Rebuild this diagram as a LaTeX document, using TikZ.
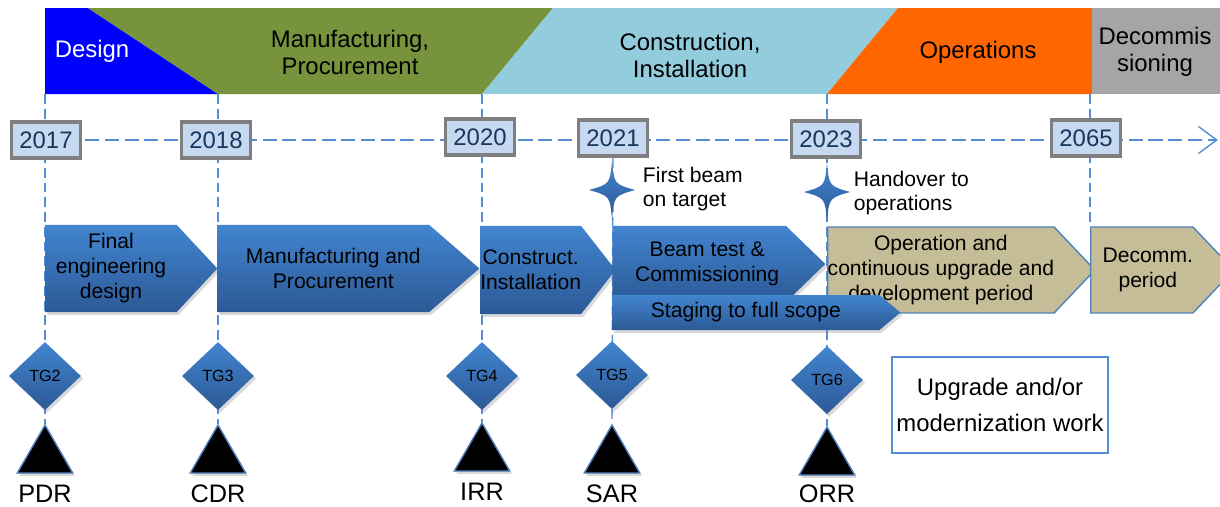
\documentclass[tikz,border=0pt]{standalone}
\usepackage{fontspec}
\setmainfont{Liberation Sans}
\usetikzlibrary{positioning, arrows.meta, shapes.geometric, shapes.symbols, shadows}
\definecolor{designc}{RGB}{0,0,255}
\definecolor{manufc}{RGB}{119,147,60}
\definecolor{constrc}{RGB}{147,205,221}
\definecolor{operc}{RGB}{255,102,0}
\definecolor{decomc}{RGB}{165,165,165}
\definecolor{yearfill}{RGB}{198,217,241}
\definecolor{yearline}{RGB}{127,127,127}
\definecolor{yeartext}{RGB}{23,55,94}
\definecolor{dashc}{RGB}{85,142,213}
\definecolor{chevtop}{RGB}{66,133,208}
\definecolor{chevbot}{RGB}{44,89,150}
\definecolor{tanc}{RGB}{196,189,151}
\definecolor{edgec}{RGB}{79,129,189}

\pgfdeclarelayer{background}
\pgfsetlayers{background,main}

\tikzset{
  milestar/.pic={
    \shade[top color=chevtop, bottom color=chevbot]
      (0,-30) .. controls (2,-6) .. (23,0) .. controls (2,6) .. (0,30)
      .. controls (-2,6) .. (-23,0) .. controls (-2,-6) .. (0,-30) -- cycle;
  }
}

\begin{document}
\begin{tikzpicture}[x=0.025cm, y=-0.025cm,
  bandtext/.style={align=center, font=\fontsize{17}{19.2}\selectfont},
  year/.style={draw=yearline, line width=2.8pt, fill=yearfill, text=yeartext, minimum width=1.725cm, minimum height=0.9cm, inner sep=0, font=\fontsize{17}{20}\selectfont},
  chev/.style={signal, signal to=east, inner sep=0, align=center, top color=chevtop, bottom color=chevbot, drop shadow={opacity=0.3, shadow xshift=1.5pt, shadow yshift=-2pt}, font=\fontsize{15}{17.8}\selectfont},
  tanchev/.style={signal, signal to=east, inner sep=0, align=center, fill=tanc, draw=edgec, line width=1pt, font=\fontsize{15}{17.8}\selectfont},
  gate/.style={diamond, minimum width=1.8cm, minimum height=1.7cm, inner sep=0, top color=chevtop, bottom color=chevbot, drop shadow={opacity=0.3, shadow xshift=1.5pt, shadow yshift=-2pt}, font=\fontsize{11.5}{13}\selectfont},
  review/.style={regular polygon, regular polygon sides=3, minimum size=1.6cm, inner sep=0, fill=black, draw=edgec, line width=1pt, drop shadow={opacity=0.3, shadow xshift=1.5pt, shadow yshift=-2pt}},
  revtext/.style={font=\fontsize{18}{20}\selectfont},
  startext/.style={anchor=west, align=left, font=\fontsize{15}{17}\selectfont},
  vline/.style={dashc, line width=1pt, dash pattern=on 7pt off 3.5pt},
  hline/.style={dashc, line width=1pt, dash pattern=on 10pt off 4pt, -{Straight Barb[length=13pt, width=19pt]}}
]
\useasboundingbox (0,0) rectangle (1220,506);

% phases
\fill[designc] (45,8) -- (88,8) -- (218,94) -- (45,94) -- cycle;
\fill[manufc] (88,8) -- (553,8) -- (482,94) -- (218,94) -- cycle;
\fill[constrc] (553,8) -- (898,8) -- (827,94) -- (482,94) -- cycle;
\fill[operc] (898,8) -- (1092,8) -- (1092,94) -- (827,94) -- cycle;
\fill[decomc] (1092,8) -- (1220,8) -- (1220,94) -- (1092,94) -- cycle;

\node[bandtext, text=white] (pdesign) at (92,51) {Design};
\node[bandtext] (pmanuf) at (350,52) {Manufacturing,\\Procurement};
\node[bandtext] (pconstr) at (690,55) {Construction,\\Installation};
\node[bandtext] (poper) at (978,52) {Operations};
\node[bandtext] (pdecom) at (1155,52) {Decommis\\sioning};

\coordinate (b17) at (45,94);
\coordinate (b18) at (218,94);
\coordinate (b20) at (482,94);
\coordinate (b23) at (827,94);
\coordinate (b65) at (1090,94);
\coordinate (tend) at (1218,140);

% years
\node[year] (y17) at (46,140) {2017};
\node[year] (y18) at (216,140) {2018};
\node[year] (y20) at (480,137) {2020};
\node[year] (y21) at (613,138) {2021};
\node[year] (y23) at (826,139) {2023};
\node[year] (y65) at (1086,138) {2065};

% milestones
\pic at (612,190) {milestar};
\pic at (827,192) {milestar};
\node[startext] (fbeam) at (638,189) {First beam\\on target};
\node[startext] (hover) at (849,193) {Handover to\\operations};

% activities
\node[chev, anchor=west, minimum width=4.3cm, minimum height=2.175cm, signal pointer angle=94] (fed) at (45,268.5) {Final\\engineering\\design};
\node[chev, anchor=west, minimum width=6.55cm, minimum height=2.175cm, signal pointer angle=82] (mfp) at (217,268.5) {\hspace*{0.5cm}Manufacturing and\\\hspace*{0.5cm}Procurement};
\node[chev, anchor=west, minimum width=3.275cm, minimum height=2.2cm, signal pointer angle=104] (cin) at (480,270) {Construct.\\Installation};
\node[chev, anchor=west, minimum width=5.325cm, minimum height=1.9cm, signal pointer angle=88] (btc) at (612,264) {\hspace*{0.4cm}Beam test \&\\\hspace*{0.4cm}Commissioning};
\node[tanchev, anchor=west, minimum width=6.525cm, minimum height=2.15cm, signal pointer angle=93] (ocu) at (827,270) {Operation and\\continuous upgrade and\\development period};
\node[tanchev, anchor=west, minimum width=3.2cm, minimum height=2.15cm, signal pointer angle=93] (dec) at (1090,270) {\hspace*{0.3cm}Decomm.\\\hspace*{0.3cm}period};
\node[chev, anchor=west, minimum width=7.2cm, minimum height=0.875cm, signal pointer angle=80] (stg) at (612,312.5) {Staging to full scope};

% tollgates
\node[gate] (tg2) at (45,376) {TG2};
\node[gate] (tg3) at (218,376) {TG3};
\node[gate] (tg4) at (482,376) {TG4};
\node[gate] (tg5) at (612,375) {TG5};
\node[gate] (tg6) at (827,380) {TG6};

% reviews
\node[review] (pdr) at (45,457) {};
\node[review] (cdr) at (218,457) {};
\node[review] (irr) at (482,455) {};
\node[review] (sar) at (612,457) {};
\node[review] (orr) at (827,459) {};
\node[revtext] (lpdr) at (45,494) {PDR};
\node[revtext] (lcdr) at (218,494) {CDR};
\node[revtext] (lirr) at (482,492) {IRR};
\node[revtext] (lsar) at (612,494) {SAR};
\node[revtext] (lorr) at (827,494) {ORR};

\node[draw=dashc, line width=1.2pt, minimum width=5.4cm, minimum height=2.4cm, align=center, font=\fontsize{17}{25.6}\selectfont] (upg) at (1000,405) {Upgrade and/or\\modernization work};

\begin{pgfonlayer}{background}
\draw[hline] (y17.center) -- (tend);
\draw[vline] (b17) -- (pdr.north);
\draw[vline] (b18) -- (cdr.north);
\draw[vline] (b20) -- (irr.north);
\draw[vline] (y21.south) -- (sar.north);
\draw[vline] (b23) -- (orr.north);
\draw[vline] (b65) -- (b65 |- dec.north);
\end{pgfonlayer}
\end{tikzpicture}
\end{document}
